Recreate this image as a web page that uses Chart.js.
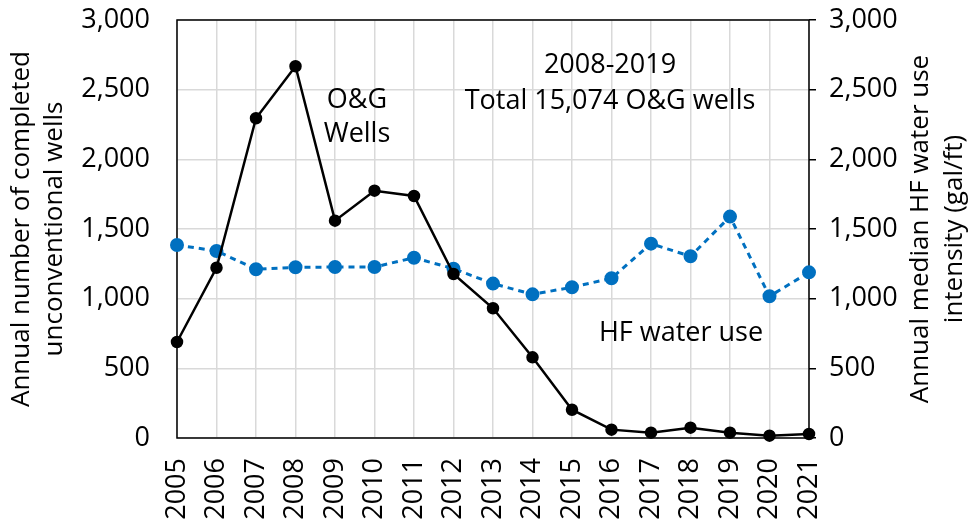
<!DOCTYPE html>
<html>
<head>
<meta charset="utf-8">
<script src="https://cdn.jsdelivr.net/npm/chart.js@4"></script>
<style>
  html, body { margin: 0; padding: 0; background: #fff; }
  #wrap { width: 969px; height: 521px; }
</style>
</head>
<body>
<div id="wrap"><canvas id="chart" width="969" height="521"></canvas></div>
<script>
const years = ['2005', '2006', '2007', '2008', '2009', '2010', '2011', '2012', '2013',
    '2014', '2015', '2016', '2017', '2018', '2019', '2020', '2021'];
// completed unconventional wells per year (left axis)
const wellCounts = [689, 1222, 2295, 2668, 1560, 1775, 1737, 1177, 931, 579, 203, 60, 38, 74, 38, 17, 29];
// median HF water use intensity, gal/ft (right axis)
const waterUse = [1385, 1342, 1211, 1225, 1227, 1227, 1294, 1215, 1108, 1031, 1082, 1146, 1395, 1304, 1589, 1017, 1189];
const leftTitle = ['Annual number of completed', 'unconventional wells'];
const rightTitle = ['Annual median HF water use', 'intensity (gal/ft)'];

const fontFamily = '"Open Sans", sans-serif';
const gridColor = '#d9d9d9';

// text notes placed inside the plot
const notes = [
    { text: 'O&G', x: 357, y: 100 },
    { text: 'Wells', x: 357, y: 134 },
    { text: '2008-2019', x: 610, y: 65 },
    { text: 'Total 15,074 O&G wells', x: 610, y: 101 },
    { text: 'HF water use', x: 681, y: 333 }
];

// drop the automatic label padding so the plot box lands where the original has it
function fixSize(prop, size) {
    return function(scale) {
        scale[prop] = size;
        scale.paddingTop = 0;
        scale.paddingBottom = 0;
        scale.paddingLeft = 0;
        scale.paddingRight = 0;
    };
}

const framePlugin = {
    id: 'frame',
    beforeDatasetsDraw(chart) {
        const { ctx, chartArea } = chart;
        ctx.save();
        ctx.strokeStyle = '#000';
        ctx.lineWidth = 1.5;
        ctx.strokeRect(chartArea.left, chartArea.top, chartArea.right - chartArea.left, chartArea.bottom - chartArea.top);
        ctx.restore();
    },
    afterDraw(chart) {
        const { ctx, chartArea } = chart;
        const midY = (chartArea.top + chartArea.bottom) / 2;
        ctx.save();
        ctx.fillStyle = '#000';
        ctx.textAlign = 'center';
        ctx.textBaseline = 'middle';

        // rotated axis titles, both reading bottom to top
        ctx.font = '26px ' + fontFamily;
        const drawTitle = (lines, xs) => {
            lines.forEach((line, i) => {
                ctx.save();
                ctx.translate(xs[i], midY);
                ctx.rotate(-Math.PI / 2);
                ctx.fillText(line, 0, 0);
                ctx.restore();
            });
        };
        drawTitle(leftTitle, [22, 55]);
        drawTitle(rightTitle, [921, 955]);

        ctx.font = '27px ' + fontFamily;
        notes.forEach(n => ctx.fillText(n.text, n.x, n.y));
        ctx.restore();
    }
};

Chart.defaults.color = '#000';

new Chart(document.getElementById('chart').getContext('2d'), {
    type: 'line',
    data: {
        labels: years,
        datasets: [{
            label: 'O&G Wells',
            data: wellCounts,
            yAxisID: 'y',
            borderColor: '#000',
            backgroundColor: '#000',
            borderWidth: 2.5,
            pointRadius: 5,
            pointHoverRadius: 5,
            tension: 0,
            clip: false
        }, {
            label: 'HF water use',
            data: waterUse,
            yAxisID: 'y2',
            borderColor: '#0070C0',
            backgroundColor: '#0070C0',
            borderWidth: 3,
            borderDash: [6, 5],
            pointRadius: 5.5,
            pointHoverRadius: 5.5,
            tension: 0,
            clip: false
        }]
    },
    options: {
        responsive: false,
        animation: false,
        layout: { padding: { top: 20, left: 0, right: 0, bottom: 0 } },
        plugins: {
            legend: { display: false },
            tooltip: { enabled: false }
        },
        scales: {
            x: {
                type: 'category',
                offset: false,
                grid: { color: gridColor, lineWidth: 1.5, drawTicks: false },
                border: { display: false },
                ticks: {
                    font: { size: 27, family: fontFamily },
                    minRotation: 90,
                    maxRotation: 90,
                    padding: 20,
                    autoSkip: false
                },
                afterFit: fixSize('height', 83)
            },
            y: {
                position: 'left',
                min: 0,
                max: 3000,
                grid: { color: gridColor, lineWidth: 1.5, drawTicks: false },
                border: { display: false },
                ticks: {
                    stepSize: 500,
                    font: { size: 27, family: fontFamily },
                    padding: 27,
                    callback: v => v.toLocaleString('en-US')
                },
                afterFit: fixSize('width', 177)
            },
            y2: {
                position: 'right',
                min: 0,
                max: 3000,
                grid: { drawOnChartArea: false, color: '#000', lineWidth: 1.5, tickLength: 7 },
                border: { display: false },
                ticks: {
                    stepSize: 500,
                    font: { size: 27, family: fontFamily },
                    padding: 13,
                    callback: v => v.toLocaleString('en-US')
                },
                afterFit: fixSize('width', 160)
            }
        }
    },
    plugins: [framePlugin]
});
</script>
</body>
</html>
